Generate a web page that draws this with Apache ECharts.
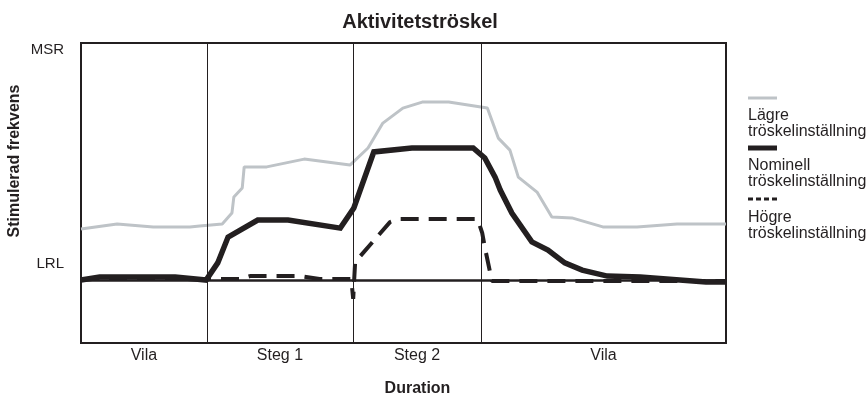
<!DOCTYPE html>
<html><head><meta charset="utf-8">
<script src="https://cdn.jsdelivr.net/npm/echarts@6/dist/echarts.min.js"></script>
<style>html,body{margin:0;padding:0;background:#fff}#c{width:867px;height:403px}</style>
</head><body><div id="c"></div>
<script>
const titleText = 'Aktivitetströskel';
const xAxisName = 'Duration';
const yAxisName = 'Stimulerad frekvens';
const seriesNames = ['Lägre', 'Nominell', 'Högre'];
const legendSub = 'tröskelinställning';

// x: duration 0..100, y: stimulated frequency 0..100 (LRL = 21, MSR = 100)
const lagreX = [0, 5.6, 11.2, 16.9, 18.4, 21.9, 23.4, 23.7, 25.0, 25.3, 28.8, 34.6, 41.7, 44.5, 46.8, 49.9, 52.9, 57.0, 63.0, 64.7, 66.5, 67.8, 70.7, 73.0, 76.1, 80.9, 86.2, 92.4, 100];
const lagreY = [38, 39.7, 38.7, 38.7, 39, 39.7, 43.3, 48.7, 51.7, 58.7, 58.7, 61.3, 59.3, 65, 73.3, 78.3, 80.3, 80.3, 78.3, 68.3, 64.3, 55.3, 50.3, 42, 41.7, 38.7, 38.7, 39.7, 39.7];

const nomX = [0, 2.9, 14.6, 19.4, 21.2, 22.8, 27.4, 32.1, 40.2, 42.3, 45.4, 51.3, 55.7, 60.8, 62.6, 64.2, 65.0, 66.8, 69.9, 72.4, 75.0, 77.7, 81.6, 86.7, 96.9, 100];
const nomY = [21, 22, 22, 21, 26.7, 35.3, 41, 41, 38.3, 45, 63.7, 65, 65, 65, 61.7, 55.3, 51, 43.3, 33.7, 31, 26.7, 24.3, 22.3, 22, 20.3, 20.3];

const hogX = [0, 24.7, 26.2, 34.0, 37.0, 41.9, 42.2, 42.5, 47.9, 49.2, 61.5, 62.2, 62.6, 63.7, 82.0, 100];
const hogY = [21.3, 21.3, 22.3, 22.3, 21.3, 21.3, 14.7, 27, 40.3, 41.3, 41.3, 36.7, 32, 20.7, 20.7, 20.7];

const phaseBounds = [19.5, 42.2, 62.0];
const phaseLabels = ['Vila', 'Steg 1', 'Steg 2', 'Vila'];
const yTickValues = [97.7, 26.3];
const yTickLabels = ['MSR', 'LRL'];
const lrlValue = 21;

const INK = '#231f20';
const GRAY = '#bec3c7';
const FONT = 'Liberation Sans, Arial, sans-serif';

const edges = [0, ...phaseBounds, 100];
const phaseCenters = phaseLabels.map((_, i) => (edges[i] + edges[i + 1]) / 2);
const zip = (xs, ys) => xs.map((x, i) => [x, ys[i]]);
const nearest = (arr, v) => { let k = 0, d = 1e9; arr.forEach((c, i) => { if (Math.abs(c - v) < d) { d = Math.abs(c - v); k = i; } }); return k; };

const chart = echarts.init(document.getElementById('c'));
chart.setOption({
  animation: false,
  backgroundColor: '#fff',
  textStyle: { fontFamily: FONT },
  title: {
    text: titleText, left: 415, top: 7, textAlign: 'center',
    textStyle: { fontFamily: FONT, fontSize: 20, fontWeight: 'bold', color: INK }
  },
  grid: { left: 81, right: 141, top: 43, bottom: 60, show: true, borderColor: INK, borderWidth: 2, backgroundColor: 'transparent', containLabel: false, outerBoundsMode: 'none' },
  xAxis: {
    type: 'value', min: 0, max: 100,
    name: xAxisName, nameLocation: 'middle', nameGap: 38,
    nameTextStyle: { fontFamily: FONT, fontSize: 16, fontWeight: 'bold', color: INK, padding: [0, 0, 0, 28] },
    axisLine: { show: false }, axisTick: { show: false }, splitLine: { show: false },
    axisLabel: {
      customValues: phaseCenters, margin: 5, fontFamily: FONT, fontSize: 16, color: INK,
      formatter: v => phaseLabels[nearest(phaseCenters, v)]
    }
  },
  yAxis: {
    type: 'value', min: 0, max: 100,
    axisLine: { show: false }, axisTick: { show: false }, splitLine: { show: false },
    axisLabel: {
      customValues: yTickValues, margin: 17, fontFamily: FONT, fontSize: 15, color: INK,
      formatter: v => yTickLabels[nearest(yTickValues, v)]
    }
  },
  graphic: [
    { type: 'text', x: 15, y: 161, rotation: Math.PI / 2,
      style: { text: yAxisName, fontFamily: FONT, fontSize: 16, fontWeight: 'bold', fill: INK, align: 'center', verticalAlign: 'middle' } },
    { type: 'line', shape: { x1: 748, y1: 98, x2: 777, y2: 98 }, style: { stroke: GRAY, lineWidth: 3 } },
    { type: 'text', x: 748, y: 108, style: { text: seriesNames[0] + '\n' + legendSub, fontFamily: FONT, fontSize: 16, lineHeight: 16, fill: INK } },
    { type: 'line', shape: { x1: 748, y1: 148, x2: 777, y2: 148 }, style: { stroke: INK, lineWidth: 5 } },
    { type: 'text', x: 748, y: 158, style: { text: seriesNames[1] + '\n' + legendSub, fontFamily: FONT, fontSize: 16, lineHeight: 16, fill: INK } },
    { type: 'line', shape: { x1: 748, y1: 199, x2: 777, y2: 199 }, style: { stroke: INK, lineWidth: 3, lineDash: [5, 3] } },
    { type: 'text', x: 748, y: 210, style: { text: seriesNames[2] + '\n' + legendSub, fontFamily: FONT, fontSize: 16, lineHeight: 16, fill: INK } }
  ],
  series: [
    {
      name: seriesNames[0], type: 'line', data: zip(lagreX, lagreY), symbol: 'none', z: 2,
      lineStyle: { color: GRAY, width: 3 },
      markLine: { silent: true, symbol: ['none', 'none'], label: { show: false },
        lineStyle: { color: INK, width: 1, type: 'solid' },
        data: phaseBounds.map(b => ({ xAxis: b })) }
    },
    {
      name: seriesNames[2], type: 'line', data: zip(hogX, hogY), symbol: 'none', z: 3,
      lineStyle: { color: INK, width: 4, type: [18, 10] },
      markLine: { silent: true, symbol: ['none', 'none'], label: { show: false },
        lineStyle: { color: INK, width: 2.5, type: 'solid' },
        data: [{ yAxis: lrlValue }] }
    },
    {
      name: seriesNames[1], type: 'line', data: zip(nomX, nomY), symbol: 'none', z: 4,
      lineStyle: { color: INK, width: 5.5, join: 'miter' }
    }
  ]
});
</script></body></html>
